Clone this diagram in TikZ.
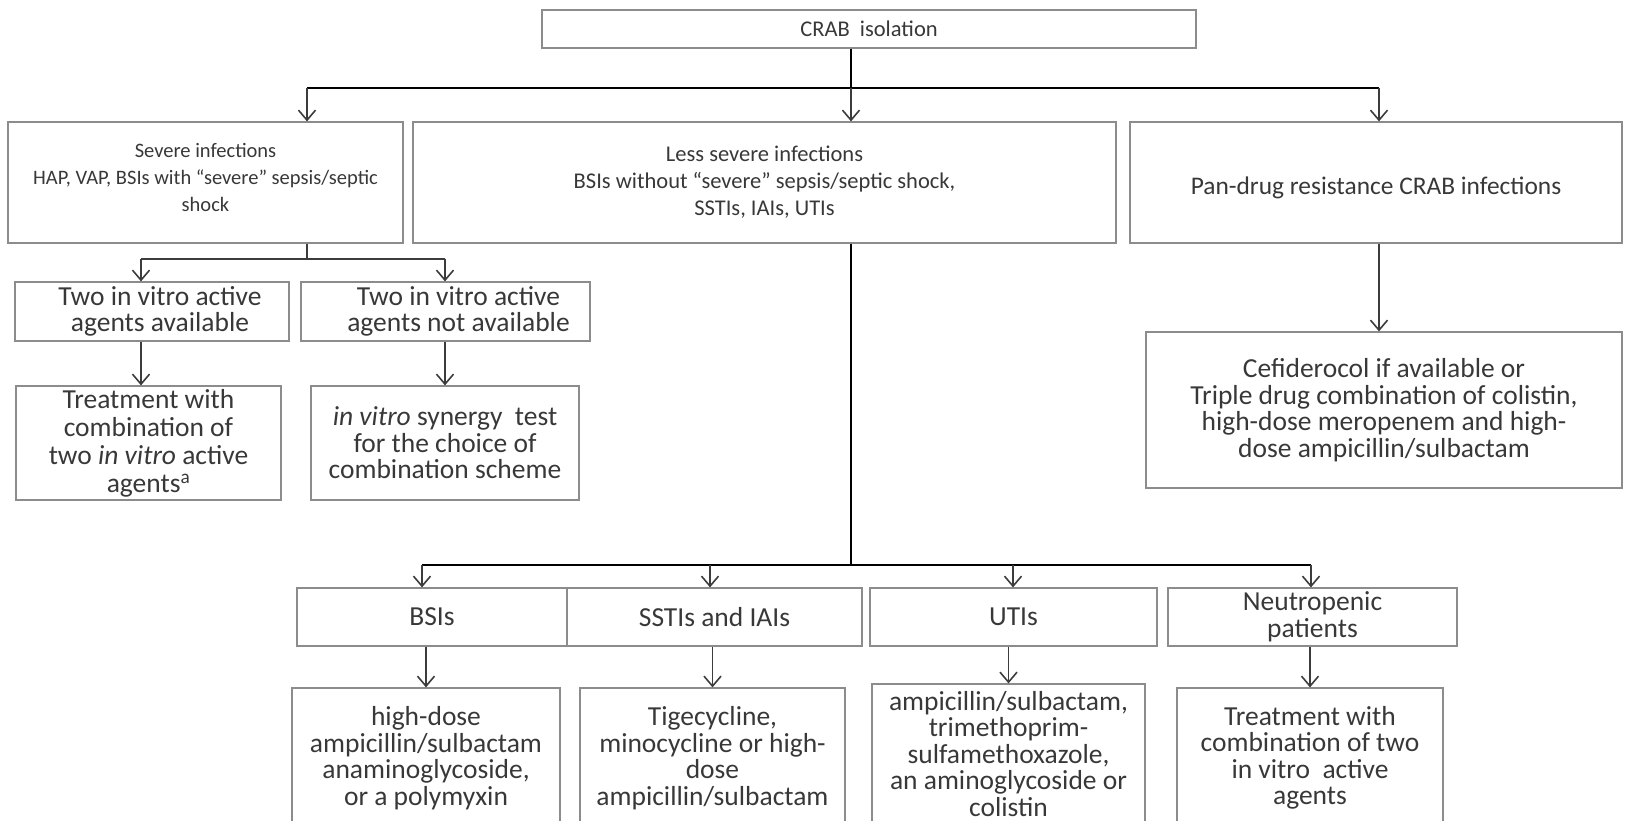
\documentclass[tikz,border=0pt]{standalone}
\usepackage{fontspec}
\setmainfont{Carlito}
\usetikzlibrary{arrows.meta, positioning}
\definecolor{edge}{HTML}{8C8C8C}
\definecolor{ink}{HTML}{383838}
\definecolor{wire}{HTML}{3C3C3C}

\begin{document}
\begin{tikzpicture}[x=1pt, y=-1pt, >={Straight Barb[length=10pt,width=17pt]},
        every node/.style={font=\fontsize{27.5}{26.5}\selectfont, text=ink},
        box/.style={draw=edge, line width=1.2pt, align=center, inner sep=0pt},
        small/.style={font=\fontsize{22.5}{27}\selectfont},
        bus/.style={draw=black, line width=2.6pt},
        link/.style={->, draw=wire, line width=1.6pt}]
    \useasboundingbox (0,0) rectangle (1628,821);
    \clip (0,0) rectangle (1628,821);
    % first row
    \node[box, small, minimum width=654, minimum height=38] (1) at (869,29) {CRAB\ \ isolation};
    \node[box, font=\fontsize{20.5}{27}\selectfont, minimum width=395, minimum height=121] (2) at (205.5,182.5)
        {Severe infections\\HAP, VAP, BSIs with “severe” sepsis/septic\\shock\\[-17pt]\mbox{}};
    \node[box, small, minimum width=703, minimum height=121] (3) at (764.5,182.5)
        {Less severe infections\\BSIs without “severe” sepsis/septic shock,\\SSTIs, IAIs, UTIs};
    \node[box, font=\fontsize{25.4}{27}\selectfont, text height=30pt, text depth=6pt,
        minimum width=492, minimum height=121] (4) at (1376,182.5)
        {Pan-drug resistance CRAB infections};
    % severe branch
    \node[box, minimum width=274, minimum height=59] (5) at (152,311.5)
        {\hspace*{16pt}Two in vitro active\\\hspace*{16pt}agents available};
    \node[box, minimum width=289, minimum height=59] (6) at (445.5,311.5)
        {\hspace*{26pt}Two in vitro active\\\hspace*{26pt}agents not available};
    \node[box, font=\fontsize{27.5}{28}\selectfont, minimum width=265, minimum height=114] (7) at (148.5,443)
        {Treatment with\\combination of\\two \textit{in vitro} active\\agents\textsuperscript{a}};
    \node[box, minimum width=268, minimum height=114] (8) at (445,443)
        {\textit{in vitro} synergy\ \ test\\for the choice of\\combination scheme};
    % pan-drug branch
    \node[box, minimum width=476, minimum height=156] (9) at (1384,410)
        {Cefiderocol if available or\\Triple drug combination of colistin,\\high-dose meropenem and high-\\dose ampicillin/sulbactam};
    % less severe branch
    \node[box, minimum width=270, minimum height=58] (10) at (432,617) {BSIs};
    \node[box, minimum width=295, minimum height=58] (11) at (714.5,617) {SSTIs and IAIs};
    \node[box, minimum width=287, minimum height=58] (12) at (1013.5,617) {UTIs};
    \node[box, minimum width=289, minimum height=58] (13) at (1312.5,617) {Neutropenic\\patients};
    \node[box, minimum width=268, minimum height=140] (14) at (426,758)
        {high-dose\\ampicillin/sulbactam\\anaminoglycoside,\\or a polymyxin};
    \node[box, minimum width=265, minimum height=140] (15) at (712.5,758)
        {Tigecycline,\\minocycline or high-\\dose\\ampicillin/sulbactam};
    \node[box, minimum width=273, minimum height=140] (16) at (1008.5,754)
        {ampicillin/sulbactam,\\trimethoprim-\\sulfamethoxazole,\\an aminoglycoside or\\colistin};
    \node[box, minimum width=266, minimum height=140] (17) at (1310,758)
        {Treatment with\\combination of two\\in vitro\ \ active\\agents};
    % junctions
    \coordinate (j1) at (851,88);
    \coordinate (a2) at (307,88);
    \coordinate (a4) at (1379,88);
    \coordinate (j2) at (307,259);
    \coordinate (b5) at (141,259);
    \coordinate (b6) at (445,259);
    \coordinate (j3) at (851,565);
    \coordinate (c10) at (422,565);
    \coordinate (c11) at (710,565);
    \coordinate (c12) at (1013,565);
    \coordinate (c13) at (1311,565);
    % top split
    \draw[bus] (j1 |- 1.south) -- (j1);
    \draw[bus] (a2) -- (a4);
    \draw[link] (a2) -- (a2 |- 2.north);
    \draw[link] (j1) -- (j1 |- 3.north);
    \draw[link] (a4) -- (a4 |- 4.north);
    % severe infections
    \draw[wire, line width=2pt] (a2 |- 2.south) -- (j2);
    \draw[wire, line width=2pt] (b5) -- (b6);
    \draw[link] (b5) -- (b5 |- 5.north);
    \draw[link] (b6) -- (b6 |- 6.north);
    \draw[link] (b5 |- 5.south) -- (b5 |- 7.north);
    \draw[link] (b6 |- 6.south) -- (b6 |- 8.north);
    % pan-drug resistance
    \draw[link] (a4 |- 4.south) -- (a4 |- 9.north);
    % less severe infections
    \draw[bus] (j1 |- 3.south) -- (j3);
    \draw[bus] (c10) -- (c13);
    \draw[link] (c10) -- (c10 |- 10.north);
    \draw[link] (c11) -- (c11 |- 11.north);
    \draw[link] (c12) -- (c12 |- 12.north);
    \draw[link] (c13) -- (c13 |- 13.north);
    \draw[link] (10.south -| 14.north) -- (14.north);
    \draw[link] (11.south -| 15.north) -- (15.north);
    \draw[link] (12.south -| 16.north) -- (16.north);
    \draw[link] (13.south -| 17.north) -- (17.north);
\end{tikzpicture}
\end{document}
